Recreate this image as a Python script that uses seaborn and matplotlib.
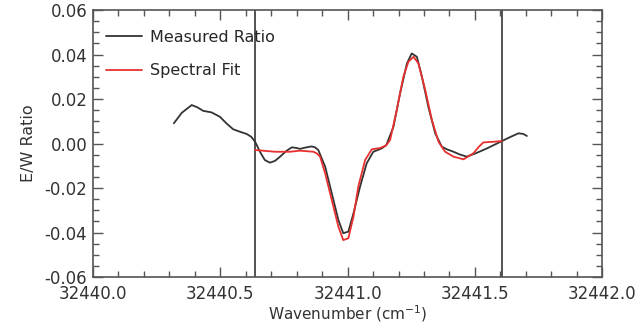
import numpy as np
import pandas as pd
import matplotlib
matplotlib.use('Agg')
import matplotlib.pyplot as plt
import seaborn as sns
from matplotlib.ticker import MultipleLocator

# measured E/W ratio
meas_wn = [32440.318, 32440.349, 32440.388, 32440.410, 32440.433, 32440.466, 32440.499,
           32440.525, 32440.551, 32440.580, 32440.604, 32440.622, 32440.637, 32440.656,
           32440.675, 32440.695, 32440.715, 32440.735, 32440.760, 32440.781, 32440.800,
           32440.813, 32440.835, 32440.859, 32440.872, 32440.885, 32440.912, 32440.938,
           32440.964, 32440.983, 32441.003, 32441.023, 32441.049, 32441.075, 32441.101,
           32441.134, 32441.152, 32441.180, 32441.206, 32441.233, 32441.252, 32441.272,
           32441.292, 32441.317, 32441.344, 32441.370, 32441.390, 32441.416, 32441.440,
           32441.468, 32441.505, 32441.547, 32441.606, 32441.640, 32441.671, 32441.690,
           32441.704]
meas_ratio = [0.0091, 0.0138, 0.0173, 0.0163, 0.0147, 0.0140, 0.0120,
              0.0090, 0.0064, 0.0052, 0.0043, 0.0030, 0.0008, -0.0037,
              -0.0074, -0.0086, -0.0078, -0.0059, -0.0033, -0.0017, -0.0020,
              -0.0024, -0.0018, -0.0013, -0.0017, -0.0029, -0.0104, -0.0224,
              -0.0344, -0.0403, -0.0396, -0.0314, -0.0194, -0.0089, -0.0037,
              -0.0022, -0.0007, 0.0075, 0.0225, 0.0360, 0.0405, 0.0390,
              0.0300, 0.0165, 0.0046, -0.0014, -0.0026, -0.0037, -0.0049,
              -0.0059, -0.0043, -0.0022, 0.0011, 0.0030, 0.0046, 0.0043,
              0.0034]

# spectral fit
fit_wn = [32440.637, 32440.715, 32440.774, 32440.813, 32440.866, 32440.880, 32440.892,
          32440.912, 32440.938, 32440.964, 32440.983, 32441.003, 32441.023, 32441.042,
          32441.069, 32441.095, 32441.128, 32441.151, 32441.167, 32441.193, 32441.219,
          32441.239, 32441.259, 32441.278, 32441.305, 32441.331, 32441.357, 32441.383,
          32441.416, 32441.455, 32441.494, 32441.515, 32441.533, 32441.573, 32441.606]
fit_ratio = [-0.0029, -0.0037, -0.0037, -0.0032, -0.0037, -0.0045, -0.0059,
             -0.0134, -0.0254, -0.0374, -0.0434, -0.0426, -0.0329, -0.0194,
             -0.0074, -0.0026, -0.0020, -0.0009, 0.0016, 0.0150, 0.0300,
             0.0368, 0.0390, 0.0360, 0.0240, 0.0106, 0.0008, -0.0037,
             -0.0059, -0.0071, -0.0044, -0.0015, 0.0005, 0.0008, 0.0011]

fit_window = [32440.637, 32441.607]

sns.set_style('white')
plt.rcParams['font.family'] = ['DejaVu Sans']

fig = plt.figure(figsize=(6.36, 3.24), dpi=100)
ax = fig.add_axes([0.146, 0.145, 0.801, 0.824])

meas_df = pd.DataFrame({'wn': meas_wn, 'ratio': meas_ratio})
fit_df = pd.DataFrame({'wn': fit_wn, 'ratio': fit_ratio})

for xv in fit_window:
    ax.axvline(xv, color='#444444', lw=1.3, zorder=1)

sns.lineplot(data=meas_df, x='wn', y='ratio', ax=ax, color='#333333', lw=1.3,
             label='Measured Ratio', estimator=None, sort=False)
sns.lineplot(data=fit_df, x='wn', y='ratio', ax=ax, color='#e8302f', lw=1.3,
             label='Spectral Fit', estimator=None, sort=False)

ax.set_xlim(32440.0, 32442.0)
ax.set_ylim(-0.06, 0.06)
ax.xaxis.set_major_locator(MultipleLocator(0.5))
ax.xaxis.set_minor_locator(MultipleLocator(0.1))
ax.yaxis.set_major_locator(MultipleLocator(0.02))
ax.yaxis.set_minor_locator(MultipleLocator(0.005))
ax.xaxis.set_major_formatter(plt.FuncFormatter(lambda v, p: '%.1f' % v))
ax.yaxis.set_major_formatter(plt.FuncFormatter(lambda v, p: '%.2f' % v if abs(v) > 1e-9 else '0.00'))

ax.tick_params(which='both', direction='in', bottom=True, left=True, top=True, right=True)
ax.tick_params(which='major', length=7, width=1, labelsize=12, color='#555555', labelcolor='#333333')
ax.tick_params(which='minor', length=4, width=1, color='#555555')
ax.tick_params(axis='x', which='major', pad=6)
ax.tick_params(axis='y', which='major', pad=4)
for sp in ax.spines.values():
    sp.set_color('#555555')
    sp.set_linewidth(1.2)

ax.set_xlabel('Wavenumber (cm$^{-1}$)', fontsize=11, color='#333333', labelpad=0)
ax.set_ylabel('E/W Ratio', fontsize=11.5, color='#333333', labelpad=6)

ax.legend(loc='upper left', bbox_to_anchor=(0.0, 0.974), frameon=False, fontsize=11.5,
          handlelength=2.3, labelspacing=1.15, handletextpad=0.5, borderaxespad=0.4)

fig.savefig('out.png', dpi=100)
